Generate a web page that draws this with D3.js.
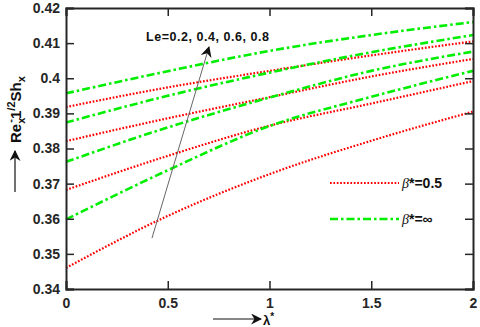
<!DOCTYPE html>
<html>
<head>
<meta charset="utf-8">
<script src="https://cdn.jsdelivr.net/npm/d3@7"></script>
<style>
  body { margin: 0; background: #fff; }
  svg text { font-family: "Liberation Sans", Arial, sans-serif; }
</style>
</head>
<body>
<div id="chart"></div>
<script>
// lambda* sample points
const lambdaVals = [0, 0.5, 1, 1.5, 2];

// beta* = 0.5 (red dotted), Le = 0.2, 0.4, 0.6, 0.8
const redLe02 = [0.3460, 0.3608, 0.3727, 0.3822, 0.3905];
const redLe04 = [0.3682, 0.3779, 0.3865, 0.3928, 0.3992];
const redLe06 = [0.3821, 0.3886, 0.3946, 0.4005, 0.4055];
const redLe08 = [0.3918, 0.3974, 0.4021, 0.4065, 0.4105];

// beta* = infinity (green dash-dot)
const greenLe02 = [0.3598, 0.3738, 0.3864, 0.3947, 0.4021];
const greenLe04 = [0.3762, 0.3860, 0.3945, 0.4021, 0.4076];
const greenLe06 = [0.3874, 0.3950, 0.4016, 0.4074, 0.4123];
const greenLe08 = [0.3957, 0.4020, 0.4078, 0.4123, 0.4160];

const xTicks = [0, 0.5, 1, 1.5, 2];
const yTicks = [0.34, 0.35, 0.36, 0.37, 0.38, 0.39, 0.4, 0.41, 0.42];

// annotation arrow (data coords): tail -> head
const leArrow = [[0.4226, 0.3545], [0.7027, 0.4089]];

const W = 480, H = 327;
const m = { left: 66, right: 7, top: 8, bottom: 38 };
const axisColor = '#262626';
const redColor = '#ff0000';
const greenColor = '#00ee00';

const svg = d3.select('#chart').append('svg')
  .attr('width', W).attr('height', H);

const defs = svg.append('defs');
defs.append('marker')
  .attr('id', 'head')
  .attr('viewBox', '0 0 10 10')
  .attr('refX', 9).attr('refY', 5)
  .attr('markerWidth', 11).attr('markerHeight', 11)
  .attr('markerUnits', 'userSpaceOnUse')
  .attr('orient', 'auto')
  .append('path').attr('d', 'M0,0 L10,5 L0,10 L3,5 Z').attr('fill', '#111');

const x = d3.scaleLinear().domain([0, 2]).range([m.left, W - m.right]);
const y = d3.scaleLinear().domain([0.34, 0.42]).range([H - m.bottom, m.top]);

const line = d3.line()
  .x((d, i) => x(lambdaVals[i]))
  .y(d => y(d))
  .curve(d3.curveMonotoneX);

const plot = svg.append('g');

[redLe02, redLe04, redLe06, redLe08].forEach(s => {
  plot.append('path').datum(s)
    .attr('d', line)
    .attr('fill', 'none')
    .attr('stroke', redColor)
    .attr('stroke-width', 2.2)
    .attr('stroke-dasharray', '1.7,1.7');
});
[greenLe02, greenLe04, greenLe06, greenLe08].forEach(s => {
  plot.append('path').datum(s)
    .attr('d', line)
    .attr('fill', 'none')
    .attr('stroke', greenColor)
    .attr('stroke-width', 2.6)
    .attr('stroke-dasharray', '8,3,2.5,3');
});

// axes (box with inward ticks)
const tickSize = 8;
const gx = svg.append('g').attr('transform', `translate(0,${H - m.bottom})`)
  .call(d3.axisBottom(x).tickValues(xTicks).tickSize(-tickSize).tickPadding(9)
    .tickFormat(d3.format('')));
const gxt = svg.append('g').attr('transform', `translate(0,${m.top})`)
  .call(d3.axisTop(x).tickValues(xTicks).tickSize(-tickSize).tickFormat(''));
const gy = svg.append('g').attr('transform', `translate(${m.left},0)`)
  .call(d3.axisLeft(y).tickValues(yTicks).tickSize(-tickSize).tickPadding(6)
    .tickFormat(d3.format('')));
const gyr = svg.append('g').attr('transform', `translate(${W - m.right},0)`)
  .call(d3.axisRight(y).tickValues(yTicks).tickSize(-tickSize).tickFormat(''));

[gx, gxt, gy, gyr].forEach(g => {
  g.select('.domain').attr('stroke', axisColor).attr('stroke-width', 2);
  g.selectAll('.tick line').attr('stroke', axisColor).attr('stroke-width', 1.5);
  g.selectAll('.tick text')
    .attr('fill', axisColor)
    .style('font-size', '14px')
    .style('font-weight', 'bold');
});
gx.selectAll('.tick text').attr('dy', '0.71em');

// Le annotation arrow
svg.append('line')
  .attr('x1', x(leArrow[0][0])).attr('y1', y(leArrow[0][1]))
  .attr('x2', x(leArrow[1][0])).attr('y2', y(leArrow[1][1]))
  .attr('stroke', '#666').attr('stroke-width', 1)
  .attr('marker-end', 'url(#head)');

svg.append('text')
  .attr('x', 146).attr('y', 41)
  .attr('textLength', 123).attr('lengthAdjust', 'spacing')
  .style('font-size', '12.5px').style('font-weight', 'bold')
  .attr('fill', '#111')
  .text('Le=0.2, 0.4, 0.6, 0.8');

// legend
const legend = [
  { label: '=0.5', color: redColor, dash: '1.7,1.7', w: 2.2, yPos: 183 },
  { label: '=\u221E', color: greenColor, dash: '8,3,2.5,3', w: 2.6, yPos: 219 }
];
legend.forEach(l => {
  svg.append('line')
    .attr('x1', 330).attr('x2', 399)
    .attr('y1', l.yPos).attr('y2', l.yPos)
    .attr('stroke', l.color).attr('stroke-width', l.w)
    .attr('stroke-dasharray', l.dash);
  const t = svg.append('text').attr('x', 402).attr('y', l.yPos + 5)
    .style('font-size', '14px').attr('fill', '#111');
  t.append('tspan').style('font-style', 'italic')
    .style('font-family', '"Liberation Serif", serif').text('\u03B2');
  t.append('tspan').style('font-weight', 'bold').text('*');
  t.append('tspan').style('font-weight', 'bold').text(l.label);
});

// x label with arrow
svg.append('line')
  .attr('x1', 213).attr('x2', 261).attr('y1', 319).attr('y2', 319)
  .attr('stroke', '#111').attr('stroke-width', 1.2)
  .attr('marker-end', 'url(#head)');
const xl = svg.append('text').attr('x', 263).attr('y', 325)
  .style('font-size', '13px').style('font-weight', 'bold').attr('fill', '#111');
xl.append('tspan').text('\u03BB');
xl.append('tspan').attr('dy', -5).style('font-size', '10px').text('*');

// y label with arrow
svg.append('line')
  .attr('x1', 15).attr('x2', 15).attr('y1', 192).attr('y2', 151)
  .attr('stroke', '#111').attr('stroke-width', 1.2)
  .attr('marker-end', 'url(#head)');
const yl = svg.append('text')
  .attr('transform', 'translate(21,143) rotate(-90)')
  .style('font-size', '15px').style('font-weight', 'bold').attr('fill', '#111');
yl.append('tspan').text('Re');
yl.append('tspan').attr('dy', 4).style('font-size', '11px').text('x');
yl.append('tspan').attr('dy', -11).attr('dx', -5).style('font-size', '11px').text('-');
yl.append('tspan').attr('dy', 7).text('1');
yl.append('tspan').attr('dy', -6).style('font-size', '11px').text('/2');
yl.append('tspan').attr('dy', 6).text('Sh');
yl.append('tspan').attr('dy', 4).style('font-size', '11px').text('x');
</script>
</body>
</html>
